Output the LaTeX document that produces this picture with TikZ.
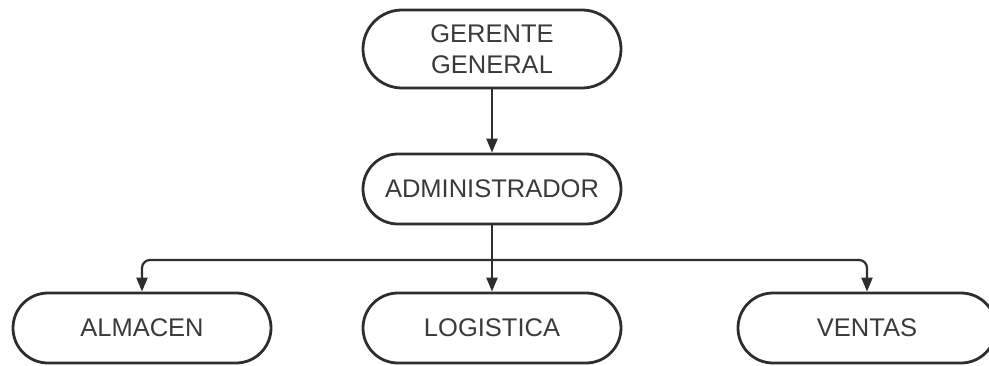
\documentclass[tikz,border=0pt]{standalone}
\usepackage{fontspec}
\setmainfont{Liberation Sans}
\usetikzlibrary{arrows.meta}
\definecolor{txt}{HTML}{3A3A3A}
\definecolor{ln}{HTML}{2E2E2E}
\tikzset{
  box/.style={draw=ln, line width=2.8pt, rectangle, rounded corners=35pt,
    minimum width=258pt, minimum height=70pt, inner sep=0pt,
    text=txt, font=\fontsize{25.5}{31}\selectfont, align=center},
  conn/.style={draw=ln, line width=2.2pt, -{Triangle[length=14pt,width=11pt]}}
}
\begin{document}
\begin{tikzpicture}[x=1pt,y=-1pt]
\useasboundingbox (0,0) rectangle (989,365);
\node[box, minimum height=78pt, rounded corners=39pt] (ger) at (492,49) {GERENTE\\GENERAL};
\node[box] (adm) at (492,189) {ADMINISTRADOR};
\node[box] (alm) at (142,328) {ALMACEN};
\node[box] (log) at (492,328) {LOGISTICA};
\node[box] (ven) at (867,328) {VENTAS};
\coordinate (j) at (492,260);
\draw[conn] (ger.south) -- (adm.north);
\draw[conn] (adm.south) -- (log.north);
\draw[conn, rounded corners=8pt] (j) -| (alm.north);
\draw[conn, rounded corners=8pt] (j) -| (ven.north);
\end{tikzpicture}
\end{document}
